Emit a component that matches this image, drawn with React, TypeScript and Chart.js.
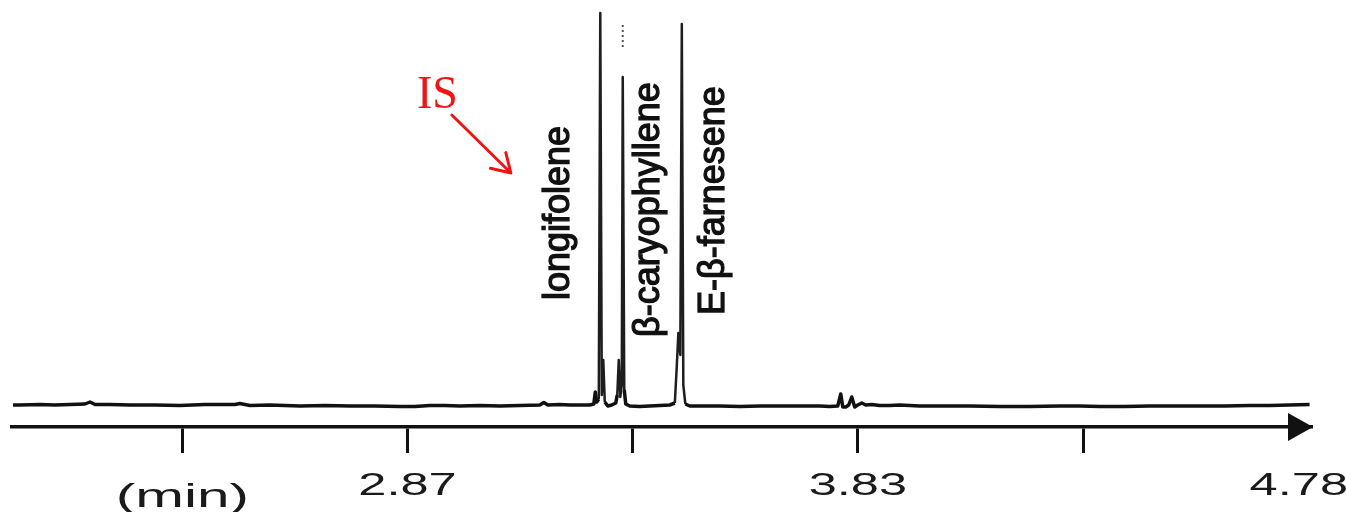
import React, { useEffect, useRef } from 'react';
import { Chart, registerables } from 'chart.js';

Chart.register(...registerables);

// Retention time (min) and detector signal (arbitrary units)
const times = [
  2.0291, 2.044, 2.0867, 2.1186, 2.1506, 2.1826, 2.1932, 2.2039, 2.2358, 2.2785,
  2.3317, 2.385, 2.4383, 2.5022, 2.5129, 2.5342, 2.5768, 2.6407, 2.694, 2.7473,
  2.8006, 2.8538, 2.8858, 2.9177, 2.9497, 2.9817, 3.0243, 3.0669, 3.1095, 3.1521,
  3.1607, 3.1692, 3.1948, 3.2161, 3.2587, 3.2672, 3.2704, 3.2736, 3.2778, 3.281,
  3.2842, 3.2874, 3.2906, 3.297, 3.3055, 3.314, 3.3172, 3.3204, 3.3236, 3.3268,
  3.3289, 3.3321, 3.3353, 3.3438, 3.3651, 3.3866, 3.4079, 3.4291, 3.4399, 3.4442,
  3.4474, 3.4516, 3.4548, 3.458, 3.4623, 3.4718, 3.4931, 3.5357, 3.5784, 3.621,
  3.6636, 3.7062, 3.7488, 3.7702, 3.7872, 3.7936, 3.7979, 3.8043, 3.8106, 3.817,
  3.8234, 3.8298, 3.8384, 3.8469, 3.8597, 3.8767, 3.898, 3.9193, 3.9619, 4.0046,
  4.0685, 4.1324, 4.1964, 4.2603, 4.3029, 4.3455, 4.3988, 4.4521, 4.5054, 4.5586,
  4.6119, 4.6651, 4.7078, 4.7504, 4.793,
];
const signal = [
  0, 0, 0.5, 0, 0.5, 1, 3, 0.5, 0.5, 0,
  0, -0.5, 0.5, 0.5, 1.5, -0.5, 0, -1, -0.5, -1,
  -1, -1.5, -1.5, -0.5, -0.5, -1, -0.5, -1, -0.5, 0,
  2.5, 0, 0.5, 0, 0, 1, 13, 3, 6, 392,
  10, 45, 3, -1, 0, 2, 10, 45, 8, 20,
  328, 15, 1, -1, -1.5, -1, -0.5, 0, 2, 40,
  72, 50, 381, 20, 1, -1, -1, -1, -1.5, -1,
  -1, -1, -1, -1.5, -1, 11, -2, -2, 0, 8,
  -2, 0, 2, 0, 0.5, -0.5, -0.5, 0, -1, -1,
  -1, -1.5, -1.5, -1, -1, -1.5, -1.5, -1, -1, -1,
  -1, -0.5, -0.5, 0, 0.5,
];
// Off-scale (dotted) continuation of the β-caryophyllene peak
const dottedTimes = [3.3289, 3.3289];
const dottedSignal = [358, 383];

const tickValues = [2.39, 2.87, 3.35, 3.83, 4.31];
const labelValues = [2.39, 2.87, 3.83, 4.78];
const labelTexts = ['(min)', '2.87', '3.83', '4.78'];

const peakNames = ['longifolene', 'β-caryophyllene', 'E-β-farnesene'];
const peakLabelTimes = [3.215, 3.4068, 3.5453];
const peakLabelSignals = [105, 68, 90];

const isText = 'IS';

const annotPlugin = {
  id: 'annot',
  afterDraw(chart: any) {
    const { ctx } = chart;
    const xs = chart.scales.x;
    const ys = chart.scales.y;
    ctx.save();

    // Arrowhead at the end of the time axis
    const ax = xs.right + 2;
    const ay = xs.top;
    ctx.fillStyle = '#111';
    ctx.beginPath();
    ctx.moveTo(ax, ay);
    ctx.lineTo(ax - 25, ay - 14);
    ctx.lineTo(ax - 25, ay + 14);
    ctx.closePath();
    ctx.fill();

    // Axis labels (horizontally stretched, like the source figure)
    ctx.fillStyle = '#1a1a1a';
    ctx.textAlign = 'left';
    ctx.textBaseline = 'alphabetic';
    labelValues.forEach((v, i) => {
      const txt = labelTexts[i];
      const unit = i === 0;
      const size = unit ? 34 : 32;
      const sx = unit ? 1.72 : 1.58;
      ctx.save();
      ctx.font = `${size}px "Liberation Sans", Arial, sans-serif`;
      const w = ctx.measureText(txt).width * sx;
      const px = xs.getPixelForValue(v);
      let left = px - w / 2;
      if (left + w > chart.width + 2) left = chart.width + 2 - w;
      ctx.translate(left, unit ? 507 : 495);
      ctx.scale(sx, 1);
      ctx.fillText(txt, 0, 0);
      ctx.restore();
    });

    // Rotated peak names
    ctx.fillStyle = '#111';
    ctx.strokeStyle = '#111';
    ctx.lineWidth = 1.3;
    ctx.font = '36px "Liberation Sans", Arial, sans-serif';
    peakNames.forEach((name, i) => {
      ctx.save();
      ctx.translate(xs.getPixelForValue(peakLabelTimes[i]), ys.getPixelForValue(peakLabelSignals[i]));
      ctx.rotate(-Math.PI / 2);
      ctx.fillText(name, 0, 0);
      ctx.strokeText(name, 0, 0);
      ctx.restore();
    });

    // Internal standard marker
    const red = '#f01414';
    ctx.fillStyle = red;
    ctx.font = '46px "Liberation Serif", "Times New Roman", serif';
    ctx.fillText(isText, xs.getPixelForValue(2.8901), ys.getPixelForValue(297));
    const x1 = xs.getPixelForValue(2.9646);
    const y1 = ys.getPixelForValue(290);
    const x2 = xs.getPixelForValue(3.0904);
    const y2 = ys.getPixelForValue(232);
    ctx.strokeStyle = red;
    ctx.lineWidth = 3;
    ctx.lineCap = 'round';
    ctx.beginPath();
    ctx.moveTo(x1, y1);
    ctx.lineTo(x2, y2);
    const ang = Math.atan2(y2 - y1, x2 - x1);
    const hl = 21;
    for (const d of [-0.55, 0.55]) {
      ctx.moveTo(x2, y2);
      ctx.lineTo(x2 - hl * Math.cos(ang + d), y2 - hl * Math.sin(ang + d));
    }
    ctx.stroke();
    ctx.restore();
  },
};

export default function App() {
  const ref = useRef<HTMLCanvasElement>(null);
  useEffect(() => {
    document.body.style.margin = '0';
    const canvas = ref.current!;
    const chart = new Chart(canvas, {
      type: 'line',
      data: {
        datasets: [
          {
            data: times.map((t, i) => ({ x: t, y: signal[i] })),
            borderColor: '#111',
            borderWidth: 3.5,
            pointRadius: 0,
            tension: 0,
            borderJoinStyle: 'round',
            segment: {
              borderWidth: (c: any) => (Math.max(c.p0.parsed.y, c.p1.parsed.y) > 15 ? 2.5 : 3.5),
              borderColor: (c: any) => (Math.max(c.p0.parsed.y, c.p1.parsed.y) > 15 ? '#1e1e1e' : '#111'),
            },
          },
          {
            data: dottedTimes.map((t, i) => ({ x: t, y: dottedSignal[i] })),
            borderColor: '#555',
            borderWidth: 2,
            borderDash: [2, 3],
            pointRadius: 0,
          },
        ],
      },
      options: {
        animation: false,
        responsive: false,
        devicePixelRatio: 1,
        layout: { padding: { left: 12, right: 35, top: 0, bottom: 59 } },
        plugins: { legend: { display: false }, tooltip: { enabled: false } },
        scales: {
          x: {
            type: 'linear',
            min: 2.027,
            max: 4.796,
            afterBuildTicks: (s: any) => {
              s.ticks = tickValues.map((v) => ({ value: v }));
            },
            ticks: { display: false },
            grid: {
              display: true,
              drawOnChartArea: false,
              drawTicks: true,
              tickLength: 26,
              tickWidth: 3,
              tickColor: '#111',
              color: '#111',
              lineWidth: 3,
            },
            border: { display: true, width: 3.5, color: '#111' },
          },
          y: { type: 'linear', display: false, min: -22, max: 405 },
        },
      },
      plugins: [annotPlugin],
    } as any);
    return () => chart.destroy();
  }, []);
  return (
    <div style={{ width: 1346, height: 512, background: '#fff' }}>
      <canvas ref={ref} width={1346} height={512} style={{ display: 'block' }} />
    </div>
  );
}
